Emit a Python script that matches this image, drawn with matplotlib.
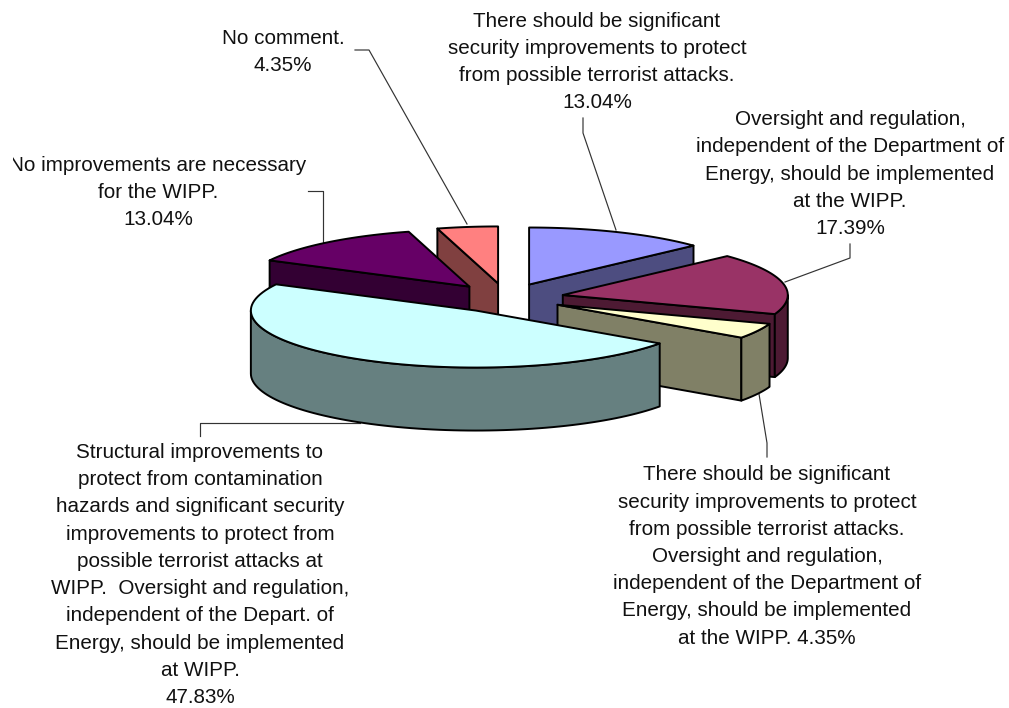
import numpy as np
import matplotlib
matplotlib.use('Agg')
import matplotlib.pyplot as plt
from matplotlib.patches import Polygon
from matplotlib.transforms import Bbox

plt.rcParams['font.family'] = ['Liberation Sans', 'DejaVu Sans']

# slices, clockwise from 12 o'clock
names = ['blue', 'maroon', 'yellow', 'cyan', 'purple', 'salmon']
shares = [13.04, 17.39, 4.35, 47.83, 13.04, 4.35]
tops = ['#9999FF', '#993366', '#FFFFCC', '#CCFFFF', '#660066', '#FF8080']
sides = ['#4D4D80', '#4D1A33', '#808066', '#668080', '#330033', '#804040']
draw_order = [0, 5, 4, 1, 2, 3]

labels = [
    'There should be significant\nsecurity improvements to protect\nfrom possible terrorist attacks.\n13.04%',
    'Oversight and regulation,\nindependent of the Department of\nEnergy, should be implemented\nat the WIPP.\n17.39%',
    'There should be significant\nsecurity improvements to protect\nfrom possible terrorist attacks.\nOversight and regulation,\nindependent of the Department of\nEnergy, should be implemented\nat the WIPP. 4.35%',
    'Structural improvements to\nprotect from contamination\nhazards and significant security\nimprovements to protect from\npossible terrorist attacks at\nWIPP.  Oversight and regulation,\nindependent of the Depart. of\nEnergy, should be implemented\nat WIPP.\n47.83%',
    'No improvements are necessary\nfor the WIPP.\n13.04%',
    'No comment.\n4.35%',
]
label_x = [597, 850, 767, 200, 158, 283]
label_y = [62, 174, 556.5, 575, 192.5, 52]
leaders = [
    ([583, 583, 616], [118, 133, 230]),
    ([850, 850, 785], [244, 258, 282]),
    ([767, 767, 759], [457, 443, 394]),
    ([200, 200, 360], [436, 423, 423]),
    ([308, 323, 323], [191, 191, 242]),
    ([355, 369, 467], [50, 50, 224]),
]

cx, cy = 506, 298
rx, ry = 225, 57
depth = 63
explode = 58


def arc(x0, y0, a0, a1):
    t = np.radians(np.linspace(a0, a1, 80))
    return np.column_stack([x0 + rx * np.sin(t), y0 - ry * np.cos(t)])


fig = plt.figure(figsize=(10.09, 7.08), dpi=100)
ax = fig.add_axes([0, 0, 1, 1])
ax.set_xlim(0, 1009)
ax.set_ylim(708, 0)
ax.axis('off')

for (xs, ys) in leaders:
    ax.plot(xs, ys, color='#333333', lw=0.85, zorder=1)

edges = np.cumsum([0] + shares) / sum(shares) * 360
down = np.array([0, depth])

for i in draw_order:
    a0, a1 = edges[i], edges[i + 1]
    mid = np.radians((a0 + a1) / 2)
    x0 = cx + explode * np.sin(mid)
    y0 = cy - explode * np.cos(mid) * ry / rx
    z = 10 + draw_order.index(i) * 5
    apex = np.array([x0, y0])
    kw = dict(edgecolor='black', lw=1.4, joinstyle='round')

    # radial wall, only if it faces the viewer
    for a, show in ((a0, np.sin(np.radians(a0)) < -1e-6), (a1, np.sin(np.radians(a1)) > 1e-6)):
        if show:
            p = arc(x0, y0, a, a + 1e-6)[0]
            ax.add_patch(Polygon([apex, p, p + down, apex + down],
                                 facecolor=sides[i], zorder=z, **kw))

    # outer wall, front half only
    w0, w1 = max(a0, 90), min(a1, 270)
    if w1 > w0:
        rim = arc(x0, y0, w0, w1)
        ax.add_patch(Polygon(np.vstack([rim, (rim + down)[::-1]]),
                             facecolor=sides[i], zorder=z + 1, **kw))

    ax.add_patch(Polygon(np.vstack([apex, arc(x0, y0, a0, a1)]),
                         facecolor=tops[i], zorder=z + 2, **kw))

for i in range(len(names)):
    t = ax.text(label_x[i], label_y[i], labels[i], ha='center', va='center',
                multialignment='center', fontsize=14.85, linespacing=1.55,
                color='#111111', zorder=50)
    if names[i] == 'purple':
        # the first letter is cut off by the chart frame
        t.set_clip_on(True)
        t.set_clip_box(Bbox.from_extents(13, 0, 1009, 708))

fig.savefig('out.png', dpi=100)
